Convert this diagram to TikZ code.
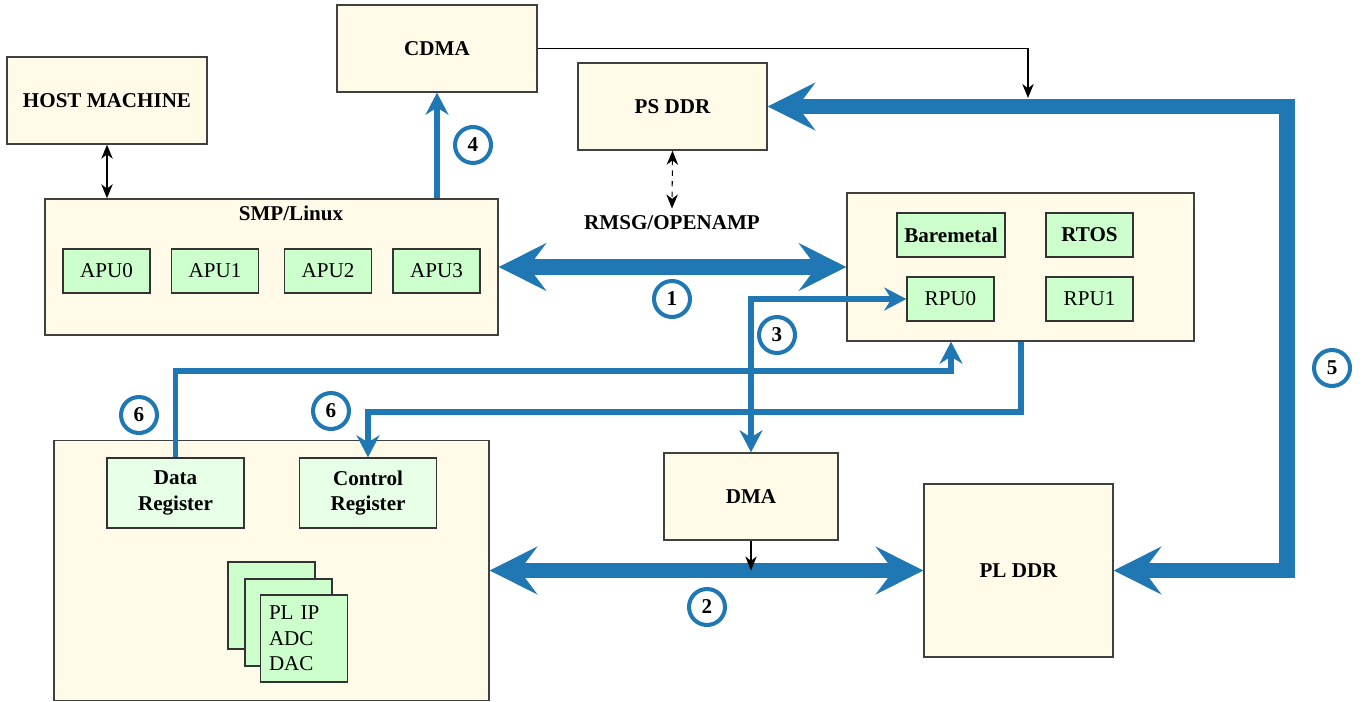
\documentclass[tikz,border=0pt,12pt]{standalone}
\usepackage{fontspec}
\setmainfont{Liberation Serif}
\usetikzlibrary{arrows.meta}
\definecolor{flowblue}{RGB}{31,119,180}
\definecolor{boxcream}{RGB}{255,251,232}
\definecolor{coregreen}{RGB}{204,255,204}
\definecolor{reggreen}{RGB}{230,255,230}
\tikzset{
	bigtip/.tip = {Stealth[length = 27pt, width = 27pt, inset = 10pt]},
	midtip/.tip = {Stealth[length = 12.5pt, width = 13pt, inset = 4pt]},
	thintip/.tip = {Stealth[length = 8pt, width = 6.5pt, inset = 2.5pt]}
}
\begin{document}
\begin{tikzpicture}[x = 0.02cm, y = -0.02cm,
		block/.style = {draw = black!75, line width = 0.8pt, fill = boxcream, inner sep = 0pt, font = \bfseries},
		core/.style = {draw = black!80, line width = 0.8pt, fill = coregreen, inner sep = 0pt, minimum width = 1.74cm, minimum height = 0.88cm},
		badge/.style = {circle, draw = flowblue, line width = 2.3pt, minimum size = 0.72cm, inner sep = 0pt, font = \bfseries},
		bus/.style = {draw = flowblue, line width = 9pt},
		wire/.style = {draw = flowblue, line width = 3.4pt},
		link/.style = {draw = black, line width = 0.8pt}]
	\useasboundingbox (0, 0) rectangle (1364, 702);
	% blocks
	\node[block, minimum width = 4cm, minimum height = 1.74cm] (host) at (107, 100.5) {HOST MACHINE};
	\node[block, minimum width = 4cm, minimum height = 1.74cm] (cdma) at (437, 48.5) {CDMA};
	\node[block, minimum width = 3.78cm, minimum height = 1.74cm] (psddr) at (672.5, 106.5) {PS DDR};
	\node[block, minimum width = 9.06cm, minimum height = 2.72cm] (smp) at (271.5, 267) {};
	\node[font = \bfseries] (smplabel) at (291, 213) {SMP/Linux};
	\node[core] (apu0) at (106.5, 271) {APU0};
	\node[core] (apu1) at (215, 271) {APU1};
	\node[core] (apu2) at (328, 271) {APU2};
	\node[core] (apu3) at (436.5, 271) {APU3};
	\node[block, minimum width = 6.94cm, minimum height = 2.96cm] (rpubox) at (1020.5, 267) {};
	\node[core, font = \bfseries, minimum width = 2.16cm] (bare) at (951, 235) {Baremetal};
	\node[core, font = \bfseries] (rtos) at (1089.5, 235) {RTOS};
	\node[core] (rpu0) at (950.5, 299) {RPU0};
	\node[core] (rpu1) at (1089.5, 299) {RPU1};
	\node[font = \bfseries] (rmsg) at (672, 223) {RMSG/OPENAMP};
	\node[block, minimum width = 3.48cm, minimum height = 1.74cm] (dma) at (751, 496.5) {DMA};
	\node[block, minimum width = 3.78cm, minimum height = 3.46cm] (plddr) at (1018.5, 570.5) {PL DDR};
	\node[block, minimum width = 8.7cm, minimum height = 5.2cm] (pl) at (271.5, 570.5) {};
	\node[core, fill = reggreen, font = \bfseries, align = center, minimum width = 2.74cm, minimum height = 1.4cm] (datareg) at (175.5, 493) {Data\\Register};
	\node[core, fill = reggreen, font = \bfseries, align = center, minimum width = 2.74cm, minimum height = 1.4cm] (ctrlreg) at (368, 493) {Control\\Register};
	\node[core, minimum height = 1.74cm] (ip1) at (271.5, 605.5) {};
	\node[core, minimum height = 1.74cm] (ip2) at (288.5, 622.5) {};
	\node[core, minimum height = 1.74cm, text width = 1.4cm, align = left] (ip3) at (304, 638.5) {PL IP\\ADC\\DAC};
	% turning points
	\coordinate (busturn) at (1287, 570.5);
	\coordinate (cdmadrop) at (1028, 98);
	\coordinate (regturn) at (951, 371);
	% connectors
	\draw[bus, bigtip-bigtip] (smp.east) -- (rpubox.west);
	\draw[bus, bigtip-bigtip] (pl.east) -- (plddr.west);
	\draw[bus, bigtip-bigtip] (plddr.east) -- (busturn) |- (psddr.east);
	\draw[wire, -midtip] (smp.north -| cdma.south) -- (cdma.south);
	\draw[wire, midtip-midtip] (rpu0.west) -| (dma.north);
	\draw[wire, -midtip] (datareg.north) |- (regturn) -- (regturn |- rpubox.south);
	\draw[wire, -midtip] (rpubox.south) -- ++(0, 70) -| (ctrlreg.north);
	\draw[link, thintip-thintip] (host.south) -- (host.south |- smp.north);
	\draw[link, -thintip] (cdma.east) -| (cdmadrop);
	\draw[link, -thintip] (dma.south) -- (dma.south |- plddr.west);
	\draw[link, line width = 0.6pt, dashed, thintip-thintip] (psddr.south) -- (rmsg.north);
	% step numbers
	\node[badge] (n1) at (672, 299) {1};
	\node[badge] (n2) at (707, 607) {2};
	\node[badge] (n3) at (777, 335) {3};
	\node[badge] (n4) at (473, 145) {4};
	\node[badge] (n5) at (1332, 368) {5};
	\node[badge] (n6a) at (139, 415) {6};
	\node[badge] (n6b) at (331, 411) {6};
\end{tikzpicture}
\end{document}
